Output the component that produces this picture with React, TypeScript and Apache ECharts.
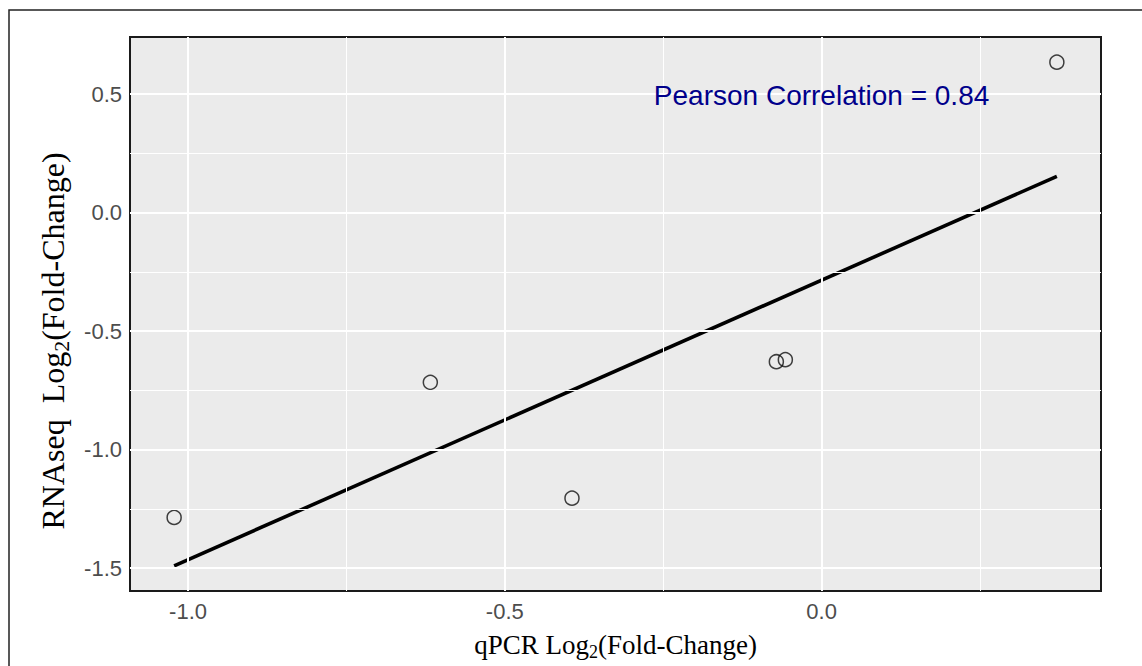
import { useEffect, useRef } from "react";
import * as echarts from "echarts";

// qPCR vs RNA-seq log2 fold changes for the validated genes
const qpcrLog2FC = [0.3714, -0.6176, -1.022, -0.394, -0.0714, -0.0572];
const rnaseqLog2FC = [0.6348, -0.7164, -1.2864, -1.2051, -0.6292, -0.6207];

const xMajor = [-1.0, -0.5, 0.0];
const xMinor = [-0.75, -0.25, 0.25];
const yMajor = [-1.5, -1.0, -0.5, 0.0, 0.5];
const yMinor = [-1.25, -0.75, -0.25, 0.25];

const correlationText = "Pearson Correlation = 0.84";
const correlationAt = [0.0, 0.5];

// least-squares fit drawn over the observed qPCR range
function fitLine(xs: number[], ys: number[]) {
  const n = xs.length;
  const mx = xs.reduce((a, b) => a + b, 0) / n;
  const my = ys.reduce((a, b) => a + b, 0) / n;
  let sxy = 0;
  let sxx = 0;
  for (let i = 0; i < n; i++) {
    sxy += (xs[i] - mx) * (ys[i] - my);
    sxx += (xs[i] - mx) * (xs[i] - mx);
  }
  const slope = sxy / sxx;
  const intercept = my - slope * mx;
  const x0 = Math.min(...xs);
  const x1 = Math.max(...xs);
  return [
    [x0, intercept + slope * x0],
    [x1, intercept + slope * x1],
  ];
}

function expand(values: number[], mult = 0.05) {
  const lo = Math.min(...values);
  const hi = Math.max(...values);
  const pad = (hi - lo) * mult;
  return [lo - pad, hi + pad];
}

const SANS = "'Liberation Sans', Arial, sans-serif";
const SERIF = "'Liberation Serif', 'Times New Roman', serif";

function titleRich(size: number) {
  return {
    a: { fontSize: size, fontFamily: SERIF, fill: "#000", lineHeight: Math.round(size * 1.2) },
    s: { fontSize: Math.round(size * 0.68), fontFamily: SERIF, fill: "#000", verticalAlign: "bottom" },
  };
}

export default function App() {
  const ref = useRef<HTMLDivElement>(null);

  useEffect(() => {
    if (!ref.current) return;
    const chart = echarts.init(ref.current, null, { renderer: "svg" });

    const fit = fitLine(qpcrLog2FC, rnaseqLog2FC);
    const [xMin, xMax] = expand(qpcrLog2FC);
    const [yMin, yMax] = expand([...rnaseqLog2FC, fit[0][1], fit[1][1]]);

    const gridLeft = 130;
    const gridTop = 37;
    const gridWidth = 971;
    const gridHeight = 554;

    const tickLabel = {
      color: "#4D4D4D",
      fontSize: 22,
      fontFamily: SANS,
      formatter: (v: number) => v.toFixed(1),
    };
    const tickStyle = { color: "#333333", width: 2 };

    chart.setOption({
      animation: false,
      backgroundColor: "#ffffff",
      grid: {
        left: gridLeft,
        top: gridTop,
        width: gridWidth,
        height: gridHeight,
        show: true,
        backgroundColor: "#EBEBEB",
        borderColor: "#1a1a1a",
        borderWidth: 2,
        containLabel: false,
      },
      xAxis: {
        type: "value",
        min: xMin,
        max: xMax,
        axisLine: { show: false },
        splitLine: { show: false },
        axisTick: { show: true, length: 6, lineStyle: tickStyle, customValues: xMajor },
        axisLabel: { ...tickLabel, margin: 9, customValues: xMajor },
      },
      yAxis: {
        type: "value",
        min: yMin,
        max: yMax,
        axisLine: { show: false },
        splitLine: { show: false },
        axisTick: { show: true, length: 6, lineStyle: tickStyle, customValues: yMajor },
        axisLabel: { ...tickLabel, margin: 8, customValues: yMajor },
      },
      series: [
        {
          name: "minor grid",
          type: "line",
          data: [],
          z: 1,
          silent: true,
          markLine: {
            silent: true,
            symbol: ["none", "none"],
            label: { show: false },
            lineStyle: { color: "#ffffff", width: 1, type: "solid" },
            data: [
              ...xMinor.map((v) => ({ xAxis: v })),
              ...yMinor.map((v) => ({ yAxis: v })),
            ],
          },
        },
        {
          name: "major grid",
          type: "line",
          data: [],
          z: 1,
          silent: true,
          markLine: {
            silent: true,
            symbol: ["none", "none"],
            label: { show: false },
            lineStyle: { color: "#ffffff", width: 2, type: "solid" },
            data: [
              ...xMajor.map((v) => ({ xAxis: v })),
              ...yMajor.map((v) => ({ yAxis: v })),
            ],
          },
        },
        {
          name: "fit",
          type: "line",
          data: fit,
          showSymbol: false,
          z: 3,
          lineStyle: { color: "#000000", width: 3.6 },
        },
        {
          name: "genes",
          type: "scatter",
          data: qpcrLog2FC.map((x, i) => [x, rnaseqLog2FC[i]]),
          symbol: "circle",
          symbolSize: 14,
          z: 4,
          itemStyle: {
            color: "rgba(0,0,0,0)",
            borderColor: "#111111",
            borderWidth: 1.5,
          },
        },
      ],
      graphic: [
        {
          type: "rect",
          silent: true,
          shape: { x: 9, y: 10, width: 1400, height: 900 },
          style: { fill: "none", stroke: "#222222", lineWidth: 1.5 },
          z: 0,
        },
        {
          type: "text",
          silent: true,
          x: gridLeft + gridWidth / 2,
          y: 645,
          style: {
            text: "{a|qPCR Log}{s|2}{a|(Fold-Change)}",
            rich: titleRich(27),
            align: "center",
            verticalAlign: "middle",
          },
        },
        {
          type: "text",
          silent: true,
          x: 53,
          y: 341,
          rotation: Math.PI / 2,
          style: {
            text: "{a|RNAseq  Log}{s|2}{a|(Fold-Change)}",
            rich: titleRich(32),
            align: "center",
            verticalAlign: "middle",
          },
        },
      ],
    });

    // annotation placed in data coordinates
    const pos = chart.convertToPixel({ gridIndex: 0 }, correlationAt) as number[];
    chart.setOption({
      graphic: [
        {},
        {},
        {},
        {
          type: "text",
          silent: true,
          x: pos[0],
          y: pos[1] + 1,
          z: 10,
          style: {
            text: correlationText,
            fill: "#00008B",
            fontSize: 28,
            fontFamily: SANS,
            align: "center",
            verticalAlign: "middle",
          },
        },
      ],
    });

    return () => chart.dispose();
  }, []);

  return (
    <div
      ref={ref}
      style={{ position: "fixed", left: 0, top: 0, width: 1142, height: 666, background: "#fff" }}
    />
  );
}
